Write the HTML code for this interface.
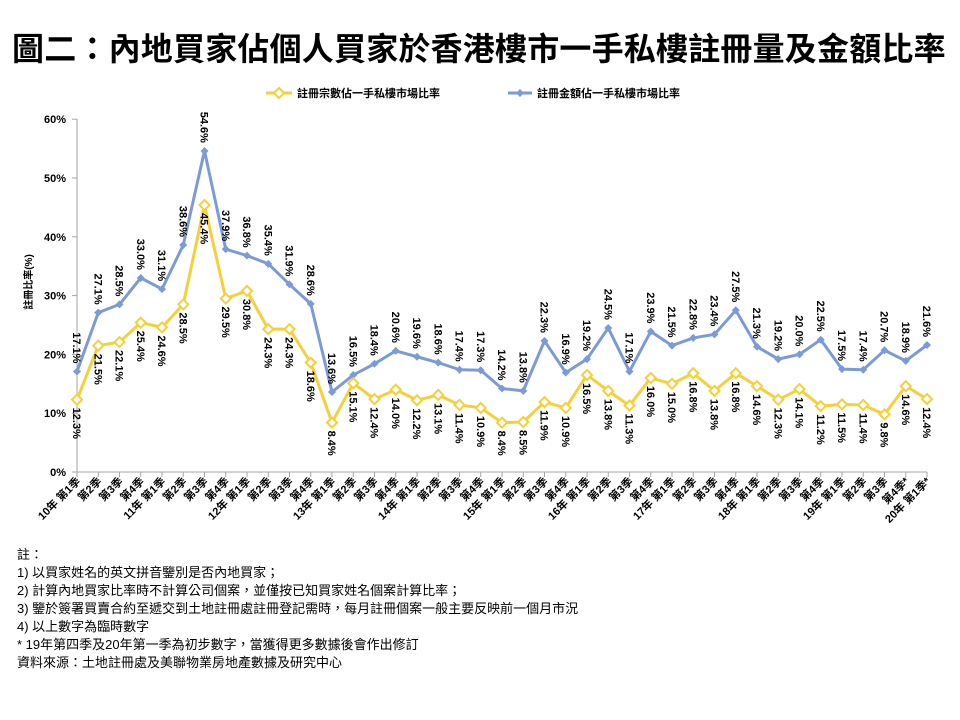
<!DOCTYPE html>
<html><head><meta charset="utf-8"><style>
body{margin:0;background:#fff;width:960px;height:720px;overflow:hidden;font-family:"Liberation Sans","Noto Sans CJK TC",sans-serif;}
.t{position:absolute;left:12px;top:24px;font-size:32px;font-weight:bold;color:#000;letter-spacing:0.2px;white-space:nowrap}
.n{position:absolute;left:17px;top:546px;font-size:13px;line-height:18px;color:#000}
</style></head><body>
<div class="t">圖二：內地買家佔個人買家於香港樓市一手私樓註冊量及金額比率</div>
<svg id="s" width="960" height="720" style="position:absolute;left:0;top:0" font-family="Liberation Sans, Noto Sans CJK TC, sans-serif"></svg>
<div class="n">註：<br>1) 以買家姓名的英文拼音鑒別是否內地買家；<br>2) 計算內地買家比率時不計算公司個案，並僅按已知買家姓名個案計算比率；<br>3) 鑒於簽署買賣合約至遞交到土地註冊處註冊登記需時，每月註冊個案一般主要反映前一個月市況<br>4) 以上數字為臨時數字<br>* 19年第四季及20年第一季為初步數字，當獲得更多數據後會作出修訂<br>資料來源：土地註冊處及美聯物業房地產數據及研究中心</div>
<script>
var Y=[12.3,21.5,22.1,25.4,24.6,28.5,45.4,29.5,30.8,24.3,24.3,18.6,8.4,15.1,12.4,14.0,12.2,13.1,11.4,10.9,8.4,8.5,11.9,10.9,16.5,13.8,11.3,16.0,15.0,16.8,13.8,16.8,14.6,12.3,14.1,11.2,11.5,11.4,9.8,14.6,12.4];
var B=[17.1,27.1,28.5,33.0,31.1,38.6,54.6,37.9,36.8,35.4,31.9,28.6,13.6,16.5,18.4,20.6,19.6,18.6,17.4,17.3,14.2,13.8,22.3,16.9,19.2,24.5,17.1,23.9,21.5,22.8,23.4,27.5,21.3,19.2,20.0,22.5,17.5,17.4,20.7,18.9,21.6];
var x0=77,dx=21.25,y0=472,sy=5.88,h='';
function X(i){return x0+i*dx}function Yp(v){return y0-v*sy}
h+='<line x1="77" y1="119" x2="77" y2="472" stroke="#a6a6a6"/><line x1="77" y1="472" x2="927" y2="472" stroke="#a6a6a6"/>';
for(var k=0;k<=6;k++){var y=y0-k*58.8;h+='<line x1="72" y1="'+y+'" x2="77" y2="'+y+'" stroke="#a6a6a6"/><text x="66" y="'+(y+4)+'" font-size="11" font-weight="bold" text-anchor="end">'+(k*10)+'%</text>';}
for(var i=0;i<41;i++){var x=X(i);h+='<line x1="'+x+'" y1="472" x2="'+x+'" y2="477" stroke="#a6a6a6"/>';
var q=i%4+1,yr=10+Math.floor(i/4);var lab=(q==1?yr+'年 ':'')+'第'+q+'季'+(i>=39?'*':'');
h+='<text transform="translate('+(x+4)+',482) rotate(-45)" font-size="11" font-weight="bold" text-anchor="end">'+lab+'</text>';}
h+='<text transform="translate(32,282) rotate(-90)" font-size="10" font-weight="bold" text-anchor="middle">註冊比率(%)</text>';
function poly(a,c){return '<polyline fill="none" stroke="'+c+'" stroke-width="3" points="'+a.map(function(v,i){return X(i)+','+Yp(v)}).join(' ')+'"/>'}
h+=poly(B,'#7a9bd8')+poly(Y,'#f5d03a');
for(var i=0;i<41;i++){var x=X(i),yb=Yp(B[i]),yy=Yp(Y[i]);
h+='<path d="M'+x+' '+(yb-4)+'L'+(x+4)+' '+yb+'L'+x+' '+(yb+4)+'L'+(x-4)+' '+yb+'Z" fill="#7a9bd8"/>';
h+='<path d="M'+x+' '+(yy-5)+'L'+(x+5)+' '+yy+'L'+x+' '+(yy+5)+'L'+(x-5)+' '+yy+'Z" fill="#fff" stroke="#f5d03a" stroke-width="2"/>';
h+='<text transform="translate('+(x-4)+','+(yb-8)+') rotate(90)" font-size="11" font-weight="bold" text-anchor="end">'+B[i].toFixed(1)+'%</text>';
h+='<text transform="translate('+(x-4)+','+(yy+8)+') rotate(90)" font-size="11" font-weight="bold" text-anchor="start">'+Y[i].toFixed(1)+'%</text>';}
h+='<line x1="266" y1="93" x2="292" y2="93" stroke="#f5d03a" stroke-width="3"/><path d="M279 88L284 93L279 98L274 93Z" fill="#fff" stroke="#f5d03a" stroke-width="2"/><text x="297" y="97" font-size="11" font-weight="bold">註冊宗數佔一手私樓市場比率</text>';
h+='<line x1="508" y1="93" x2="532" y2="93" stroke="#7a9bd8" stroke-width="3"/><path d="M520 89L524 93L520 97L516 93Z" fill="#7a9bd8"/><text x="537" y="97" font-size="11" font-weight="bold">註冊金額佔一手私樓市場比率</text>';
document.getElementById('s').innerHTML=h;
</script>
</body></html>
